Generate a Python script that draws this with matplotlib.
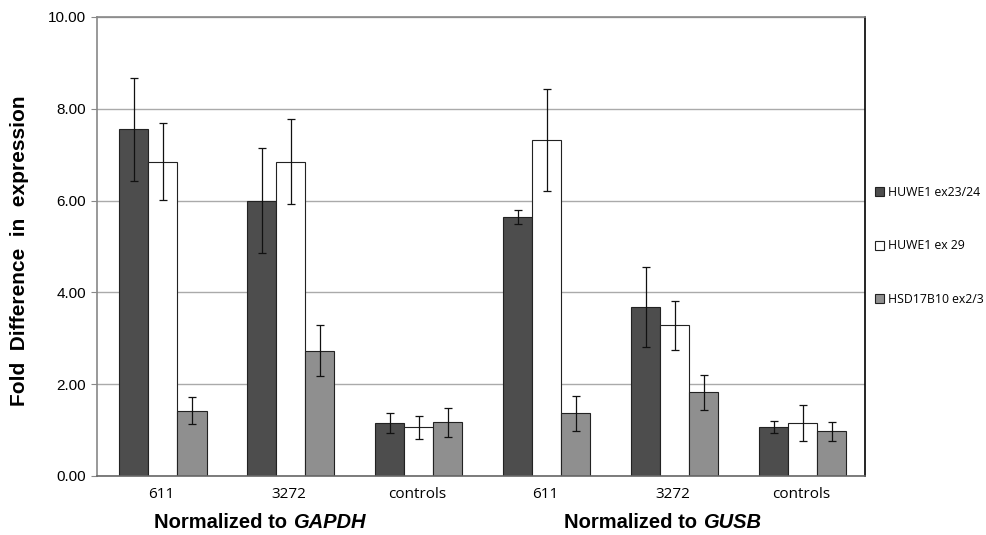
import matplotlib
matplotlib.use('Agg')
import matplotlib.pyplot as plt
import numpy as np

plt.rcParams.update({
    "font.family": "Liberation Sans",
})

categories = ["611", "3272", "controls", "611", "3272", "controls"]
series = ["HUWE1 ex23/24", "HUWE1 ex 29", "HSD17B10 ex2/3"]

huwe1_23 = [7.57, 6.00, 1.15, 5.65, 3.68, 1.06]
huwe1_23_lo = [6.43, 4.85, 0.93, 5.50, 2.80, 0.94]
huwe1_23_hi = [8.68, 7.15, 1.37, 5.80, 4.55, 1.20]

huwe1_29 = [6.85, 6.85, 1.06, 7.32, 3.28, 1.16]
huwe1_29_lo = [6.02, 5.92, 0.81, 6.20, 2.75, 0.77]
huwe1_29_hi = [7.70, 7.78, 1.31, 8.43, 3.82, 1.55]

hsd = [1.42, 2.73, 1.18, 1.37, 1.82, 0.97]
hsd_lo = [1.13, 2.18, 0.86, 0.99, 1.44, 0.76]
hsd_hi = [1.72, 3.28, 1.48, 1.74, 2.20, 1.18]

colors = ["#4d4d4d", "#ffffff", "#8f8f8f"]

fig = plt.figure(figsize=(9.87, 5.35), dpi=100)
ax = fig.add_axes([0.0983, 0.1103, 0.778, 0.858])

x = np.arange(len(categories))
w = 0.227
vals = [huwe1_23, huwe1_29, hsd]
los = [huwe1_23_lo, huwe1_29_lo, hsd_lo]
his = [huwe1_23_hi, huwe1_29_hi, hsd_hi]
handles = []
for i in range(3):
    v = np.array(vals[i])
    err = [v - np.array(los[i]), np.array(his[i]) - v]
    b = ax.bar(x + (i - 1) * w + 0.015, v, w, color=colors[i], edgecolor="#222222",
               linewidth=0.8, zorder=2, label=series[i])
    ax.errorbar(x + (i - 1) * w + 0.015, v, yerr=err, fmt="none", ecolor="#111111",
                elinewidth=0.9, capsize=3, capthick=0.9, zorder=3)
    handles.append(b)

ax.set_xlim(-0.5, len(categories) - 0.5)
ax.set_ylim(0, 10)
ax.set_yticks(np.arange(0, 10.1, 2))
ax.set_yticklabels([f"{t:.2f}" for t in np.arange(0, 10.1, 2)], fontsize=11)
ax.set_xticks(x)
ax.set_xticklabels(categories, fontsize=11, family="Open Sans")
ax.tick_params(axis="x", length=0, pad=8)
ax.tick_params(axis="y", length=4, color="#888888", pad=4)
ax.yaxis.grid(True, color="#aaaaaa", linewidth=1, zorder=0)
ax.set_axisbelow(True)
ax.spines["top"].set_color("#888888")
ax.spines["left"].set_color("#888888")
ax.spines["bottom"].set_color("#666666")
ax.spines["right"].set_color("#000000")
for s in ax.spines.values():
    s.set_linewidth(1.2)

ax.set_ylabel("Fold  Difference  in  expression", fontsize=15, fontweight="bold")
ax.yaxis.set_label_coords(-0.089, 0.49)

# group labels: bold text + bold italic gene name
fig.text(293 / 987, 1 - 523 / 535, "Normalized to ", fontsize=14.5, fontweight="bold",
         ha="right", va="center")
fig.text(293 / 987, 1 - 523 / 535, "GAPDH", fontsize=14.5, fontweight="bold",
         style="italic", ha="left", va="center")
fig.text(703 / 987, 1 - 523 / 535, "Normalized to ", fontsize=14.5, fontweight="bold",
         ha="right", va="center")
fig.text(703 / 987, 1 - 523 / 535, "GUSB", fontsize=14.5, fontweight="bold",
         style="italic", ha="left", va="center")

fig.legend(handles=handles, labels=series, loc="upper left",
           bbox_to_anchor=(875 / 987, 1 - 186 / 535), frameon=False,
           prop={"family": "Open Sans", "size": 8.8}, labelspacing=3.3,
           handlelength=0.75, handleheight=0.75, handletextpad=0.3,
           borderaxespad=0, borderpad=0)

fig.savefig("out.png", dpi=100)
